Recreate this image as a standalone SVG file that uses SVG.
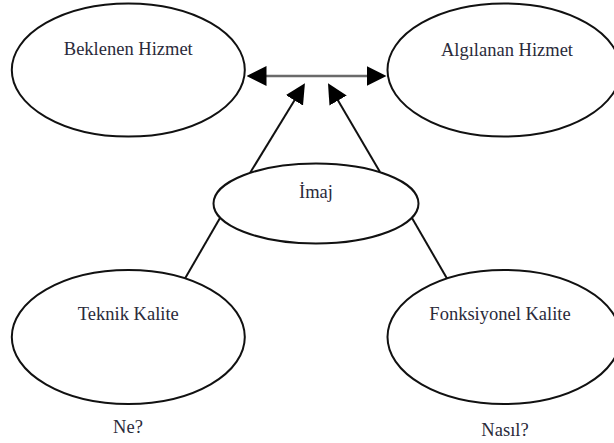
<svg xmlns="http://www.w3.org/2000/svg" width="614" height="443" viewBox="0 0 614 443">
<style>
.node ellipse{fill:#fff;stroke:#111;stroke-width:2}
.lbl{font-family:"Liberation Serif","Times New Roman",serif;font-size:18.5px;fill:#2a2a3a;text-anchor:middle}
.conn{stroke:#111;stroke-width:2;fill:none}
.dbl{stroke:#6a6a6a;stroke-width:2.6;fill:none}
</style>
<defs>
<marker id="ah" markerUnits="userSpaceOnUse" markerWidth="20" markerHeight="20" refX="1" refY="10" orient="auto-start-reverse" viewBox="0 0 20 20">
<path d="M0,0 L20,10 L0,20 z" fill="#000"/>
</marker>
</defs>
<rect width="614" height="443" fill="#fff"/>
<g id="connectors">
<line class="dbl" x1="265.5" y1="76" x2="367.5" y2="76" marker-start="url(#ah)" marker-end="url(#ah)"/>
<line class="conn" x1="250" y1="173" x2="295" y2="99.5" marker-end="url(#ah)"/>
<line class="conn" x1="380" y1="172" x2="337.6" y2="99.7" marker-end="url(#ah)"/>
<line class="conn" x1="220" y1="218" x2="185" y2="278.5"/>
<line class="conn" x1="412" y1="218" x2="447" y2="278.5"/>
</g>
<g id="beklenen" class="node">
<ellipse cx="128.3" cy="70" rx="116.5" ry="66.5"/>
<text class="lbl" x="128.3" y="54.5">Beklenen Hizmet</text>
</g>
<g id="algilanan" class="node">
<ellipse cx="504" cy="70" rx="116.5" ry="66.5"/>
<text class="lbl" x="507" y="55.5">Algılanan Hizmet</text>
</g>
<g id="imaj" class="node">
<ellipse cx="316" cy="203.5" rx="102.5" ry="40"/>
<text class="lbl" x="316" y="197.5">İmaj</text>
</g>
<g id="teknik" class="node">
<ellipse cx="128.3" cy="337" rx="116.5" ry="67"/>
<text class="lbl" x="128.3" y="319.5">Teknik Kalite</text>
</g>
<g id="fonksiyonel" class="node">
<ellipse cx="504" cy="337" rx="116.5" ry="67"/>
<text class="lbl" x="500" y="319.5">Fonksiyonel Kalite</text>
</g>
<g id="notes">
<text class="lbl" x="128" y="433">Ne?</text>
<text class="lbl" x="505" y="436">Nasıl?</text>
</g>
</svg>
